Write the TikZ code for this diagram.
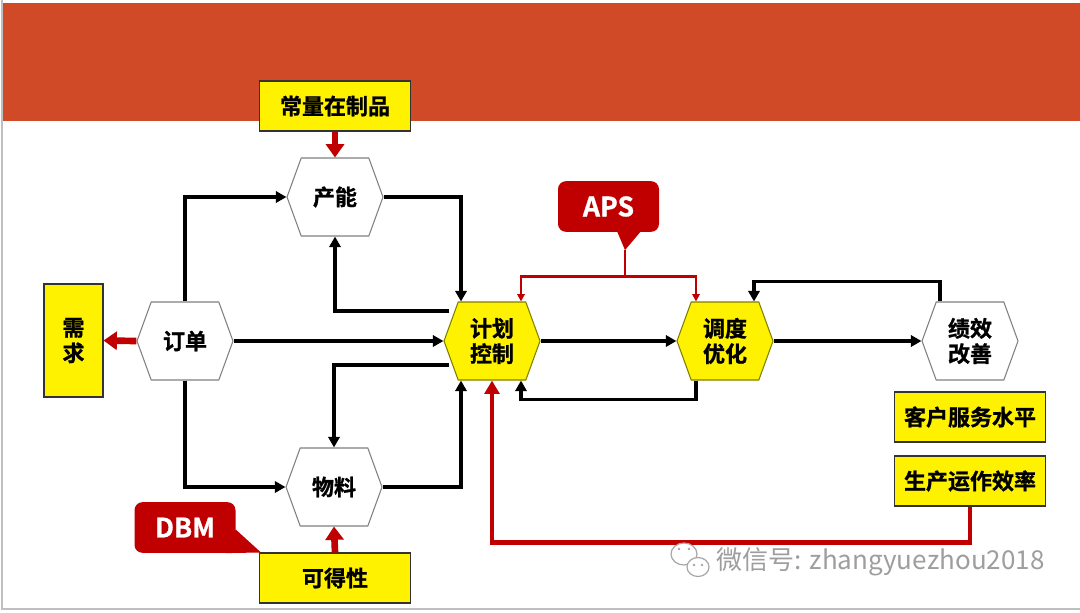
\documentclass[tikz,border=0pt]{standalone}
\usepackage{fontspec}
\setmainfont{Noto Sans CJK SC}[BoldFont={Noto Sans CJK SC Bold},BoldFeatures={FakeBold=1}]
\usepackage{tikz}
\usetikzlibrary{%
	calc,%
	arrows.meta,%
	shapes.symbols%
}
\definecolor{hdr}{HTML}{D04A27}
\definecolor{aprd}{HTML}{C00000}
\definecolor{hexgray}{HTML}{808080}
\definecolor{hexolive}{HTML}{7F7F00}
\newcommand{\lbl}{\fontsize{16.5}{19}\selectfont\bfseries}

\begin{document}
\begin{tikzpicture}[x=0.75pt,y=-0.75pt,
	hexa/.style={shape=signal,signal to=west and east,signal pointer angle=140,
		minimum width=72pt,minimum height=58.5pt,inner sep=0pt,draw=hexgray,fill=white,
		line width=0.8pt,font=\lbl,align=center},
	hexy/.style={hexa,fill=yellow,draw=hexolive},
	ybox/.style={draw=black!80,fill=yellow,line width=0.8pt,minimum width=113.25pt,
		minimum height=37.5pt,inner sep=0pt,font=\lbl,align=center},
	callout/.style={fill=aprd,rounded corners=6pt,minimum width=75.75pt,minimum height=38pt,
		text=white,font=\fontsize{20}{22}\selectfont\bfseries},
	arr/.style={line width=2.8pt,-{Triangle[length=8pt,width=8.5pt]}},
	apsl/.style={aprd,line width=1.6pt},
	blk/.style={aprd,line width=5pt,-{Triangle[length=10pt,width=13.5pt]}},
	fb/.style={aprd,line width=3.6pt,-{Triangle[length=10pt,width=11pt]}}]
	\useasboundingbox (0,0) rectangle (1080,612);
	\fill[white] (0,0) rectangle (1080,612);
	\draw[black!25,line width=1.2pt] (2,0) -- (2,609) -- (1080,609);
	\fill[hdr] (3,3) rectangle (1080,121);
	\node[ybox] (pz) at (335,106) {常量在制品};
	\node[ybox,minimum width=44.25pt,minimum height=84.75pt] (xq) at (73.5,340.5) {需\\求};
	\node[ybox] (kh) at (970,417) {客户服务水平};
	\node[ybox] (sc) at (970,481) {生产运作效率};
	\node[ybox] (kd) at (335,578) {可得性};
	\node[hexa] (cn) at (335,197) {产能};
	\node[hexa] (dd) at (185,341) {订单};
	\node[hexa] (wl) at (334,487) {物料};
	\node[hexy] (jh) at (492,341) {计划\\控制};
	\node[hexy] (dy) at (725,341) {调度\\优化};
	\node[hexa] (jx) at (970,341) {绩效\\改善};
	\node[callout] (aps) at (608.5,206.5) {APS};
	\node[callout] (dbm) at (185,527.5) {DBM};
	\coordinate (apstip) at ($(aps.south)+(16.5,18)$);
	\coordinate (dbmtip) at ($(kd.north west)+(2,0)$);
	\fill[aprd] ($(aps.south)+(8.5,-1)$) -- ($(aps.south)+(32.5,-1)$) -- (apstip) -- cycle;
	\fill[aprd] ($(dbm.east)+(0,2)$) -- ($(dbm.south east)+(-10,0)$) -- (dbmtip) -- cycle;
	\draw[arr] (dd.north) |- (cn.west);
	\draw[arr] (dd.south) |- (wl.west);
	\draw[arr] (dd.east) -- (jh.west);
	\draw[arr] (cn.east) -| ($(jh.north)+(-31,0)$);
	\draw[arr] ($(jh.west)+(6,-30)$) -| (cn.south);
	\draw[arr] ($(jh.west)+(6,24)$) -| (wl.north);
	\draw[arr] (wl.east) -| ($(jh.south)+(-31,0)$);
	\draw[arr] (jh.east) -- (dy.west);
	\draw[arr] ($(dy.south)+(-29,0)$) -- ++(0,19) -| ($(jh.south)+(29,0)$);
	\draw[arr] (dy.east) -- (jx.west);
	\draw[arr] ($(jx.north)+(-30,0)$) -- ++(0,-20) -| ($(dy.north)+(29,0)$);
	\draw[apsl] (apstip) -- ++(0,27);
	\draw[apsl,{Triangle[length=5.5pt,width=5.5pt]}-{Triangle[length=5.5pt,width=5.5pt]}]
		($(jh.north)+(29,0)$) -- ++(0,-25) -| ($(dy.north)+(-29,0)$);
	\draw[blk] (dd.west) -- (xq.east);
	\draw[blk] (pz.south) -- (cn.north);
	\draw[blk] (kd.north) -- (wl.south);
	\draw[fb] (sc.south) -- ++(0,36) -| (jh.south);
	\begin{scope}[draw=black!35,fill=white,line width=0.9pt]
		\filldraw (684,554) ellipse (13 and 11);
		\filldraw (698,567) ellipse (11 and 9.5);
		\foreach \X/\Y in {679/549,689/549,694/565,702/565}
		{\fill[black!35] (\X,\Y) circle (1.3);}
	\end{scope}
	\node[text=black!38,font=\fontsize{19.5}{22}\selectfont,anchor=west] (wm) at (712,562) {微信号: zhangyuezhou2018};
\end{tikzpicture}
\end{document}
